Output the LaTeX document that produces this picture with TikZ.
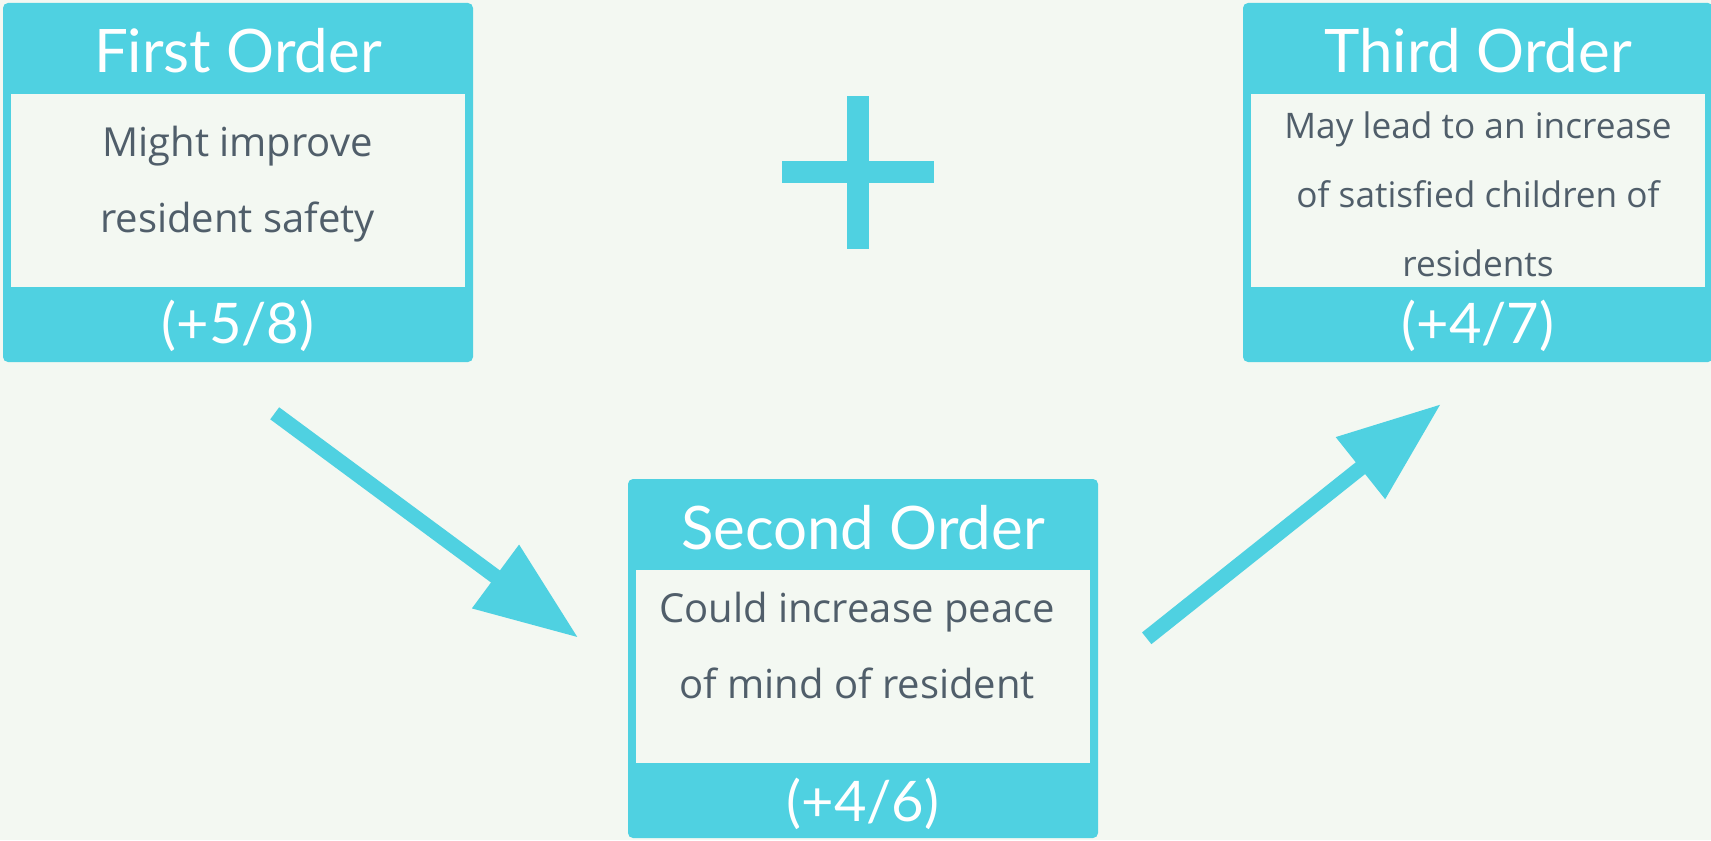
\documentclass[tikz,border=0pt]{standalone}
\usepackage{fontspec}
\setmainfont{Open Sans}
\newfontfamily\headfont{Lato}
\definecolor{ordercyan}{HTML}{4FD1E1}
\definecolor{paper}{HTML}{F3F8F2}
\definecolor{slate}{HTML}{505E6A}
\usetikzlibrary{arrows.meta,positioning}
\tikzstyle{order}=[fill=ordercyan,rounded corners=2.5pt,inner sep=0pt,
  minimum width=235pt,minimum height=179.5pt]
\tikzstyle{body}=[fill=paper,inner sep=0pt,minimum width=227pt,
  minimum height=96.5pt]
\tikzstyle{title}=[text=white,inner sep=0pt,anchor=base,
  font=\headfont\fontsize{30}{36}\selectfont]
\tikzstyle{score}=[title,font=\headfont\fontsize{28}{34}\selectfont]
\tikzstyle{effect}=[text=slate,inner sep=0pt,anchor=base,align=center,
  font=\fontsize{20}{38}\selectfont]
\tikzstyle{flow}=[draw=ordercyan,line width=7.5pt,
  -{Triangle[length=51.5pt,width=37.5pt]}]

\begin{document}
\begin{tikzpicture}[x=0.5pt, y=-0.5pt]
  \clip (0,0) rectangle (1711,840);
  \fill[paper] (0,0) rectangle (1711,840);

  % first order
  \node[order] (first) at (238,182.5) {};
  \node[body] (firstbody) at (238,190.5) {};
  \node[title] (firsttitle) at (238,73) {First Order};
  \node[effect] (firsttext) at (237.5,232) {Might improve\\resident safety};
  \node[score] (firstscore) at (238,343) {(+5/8)};

  % second order
  \node[order] (second) at (863,658.5) {};
  \node[body] (secondbody) at (863,666.5) {};
  \node[title] (secondtitle) at (863,549) {Second Order};
  \node[effect] (secondtext) at (857,698) {Could increase peace\\of mind of resident};
  \node[score] (secondscore) at (863,821) {(+4/6)};

  % third order
  \node[order] (third) at (1478,182.5) {};
  \node[body] (thirdbody) at (1478,190.5) {};
  \node[title] (thirdtitle) at (1478,73) {Third Order};
  \node[effect, font=\fontsize{17.6}{34.5}\selectfont] (thirdtext) at (1478,276)
    {May lead to an increase\\of satisfied children of\\residents};
  \node[score] (thirdscore) at (1478,343) {(+4/7)};

  % plus
  \fill[ordercyan] (847,96) rectangle (869,249);
  \fill[ordercyan] (782,161) rectangle (934,183);

  % arrows
  \coordinate (down1) at (274.7,413.3);
  \coordinate (down2) at (578.3,637.7);
  \coordinate (up1) at (1146.7,638.3);
  \coordinate (up2) at (1441,404);
  \draw[flow] (down1) -- (down2);
  \draw[flow] (up1) -- (up2);
\end{tikzpicture}
\end{document}
